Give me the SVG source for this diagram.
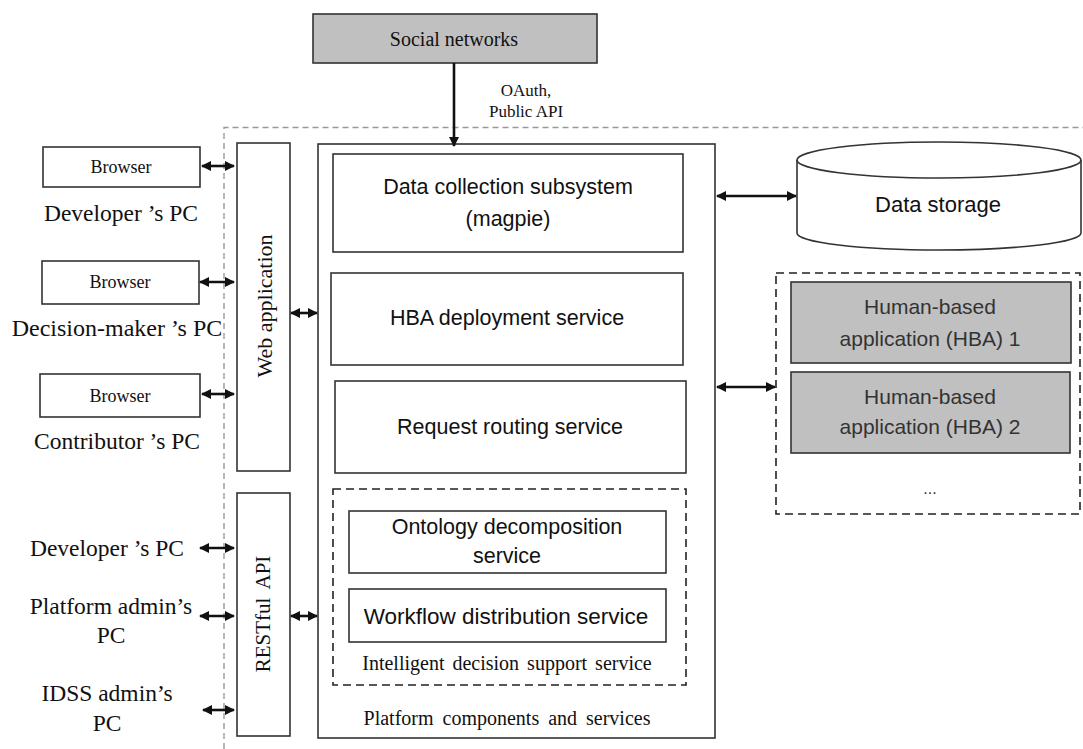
<svg xmlns="http://www.w3.org/2000/svg" width="1083" height="749" viewBox="0 0 1083 749">
  <style>
    .box { fill: #ffffff; stroke: #333333; stroke-width: 1.6; }
    .gray { fill: #c0c0c0; stroke: #333333; stroke-width: 1.6; }
    .dash { fill: none; stroke: #222222; stroke-width: 1.6; stroke-dasharray: 8 5; }
    .outer { fill: none; stroke: #999999; stroke-width: 1.4; stroke-dasharray: 6 4; }
    .serif { font-family: "Liberation Serif", "Times New Roman", serif; fill: #111111; text-anchor: middle; dominant-baseline: central; }
    .sans { font-family: "Liberation Sans", Arial, sans-serif; fill: #111111; text-anchor: middle; dominant-baseline: central; }
    .hba { fill: #333333; }
    .link { stroke: #111111; stroke-width: 2.6; fill: none; }
  </style>
  <defs>
    <marker id="head" viewBox="0 0 10 10" refX="9" refY="5" markerWidth="10" markerHeight="10" markerUnits="userSpaceOnUse" orient="auto-start-reverse">
      <path d="M0,0 L10,5 L0,10 Z" fill="#111111"/>
    </marker>
  </defs>

  <rect width="1083" height="749" fill="#ffffff"/>

  <!-- platform boundary (dashed, open to the right and bottom) -->
  <path class="outer" d="M224,749 L224,127.5 L1083,127.5"/>

  <g id="social-networks">
    <rect class="gray" x="313" y="14" width="284" height="49"/>
    <text class="serif" x="454" y="39" font-size="20">Social networks</text>
  </g>

  <g id="oauth-label">
    <text class="serif" x="526" y="90" font-size="17">OAuth,</text>
    <text class="serif" x="526" y="111" font-size="17">Public API</text>
  </g>

  <!-- client machines -->
  <g id="browser-developer">
    <rect class="box" x="43" y="147" width="157" height="40"/>
    <text class="serif" x="121" y="167" font-size="18">Browser</text>
    <text class="serif" x="121" y="213" font-size="23.5">Developer ’s PC</text>
  </g>
  <g id="browser-decision-maker">
    <rect class="box" x="42" y="261" width="157" height="43"/>
    <text class="serif" x="120" y="282" font-size="18">Browser</text>
    <text class="serif" x="117" y="328" font-size="24">Decision-maker ’s PC</text>
  </g>
  <g id="browser-contributor">
    <rect class="box" x="40" y="374" width="160" height="43"/>
    <text class="serif" x="120" y="396" font-size="18">Browser</text>
    <text class="serif" x="117" y="441" font-size="23.5">Contributor ’s PC</text>
  </g>
  <g id="api-developer">
    <text class="serif" x="107" y="548" font-size="23.5">Developer ’s PC</text>
  </g>
  <g id="api-platform-admin">
    <text class="serif" x="111" y="606" font-size="23.5">Platform admin’s</text>
    <text class="serif" x="111" y="635" font-size="23.5">PC</text>
  </g>
  <g id="api-idss-admin">
    <text class="serif" x="107" y="693" font-size="23.5">IDSS admin’s</text>
    <text class="serif" x="107" y="723" font-size="23.5">PC</text>
  </g>

  <!-- entry points -->
  <g id="web-application">
    <rect class="box" x="237" y="143" width="53" height="328"/>
    <text class="serif" font-size="22" transform="translate(264,306) rotate(-90)">Web application</text>
  </g>
  <g id="restful-api">
    <rect class="box" x="237" y="493" width="53" height="243"/>
    <text class="serif" font-size="21" transform="translate(263,614) rotate(-90)" word-spacing="4">RESTful API</text>
  </g>

  <!-- platform core -->
  <g id="platform">
    <rect class="box" x="318" y="144" width="397" height="594"/>
    <text class="serif" x="507" y="718" font-size="20" word-spacing="4">Platform components and services</text>
  </g>
  <g id="data-collection">
    <rect class="box" x="333" y="154" width="350" height="98"/>
    <text class="sans" x="508" y="187" font-size="21.5">Data collection subsystem</text>
    <text class="sans" x="508" y="219" font-size="21.5">(magpie)</text>
  </g>
  <g id="hba-deployment">
    <rect class="box" x="331" y="273" width="352" height="92"/>
    <text class="sans" x="507" y="318" font-size="21.5">HBA deployment service</text>
  </g>
  <g id="request-routing">
    <rect class="box" x="335" y="381" width="351" height="92"/>
    <text class="sans" x="510" y="427" font-size="21.5">Request routing service</text>
  </g>
  <g id="idss">
    <rect class="dash" x="333" y="489" width="353" height="196"/>
    <text class="serif" x="507" y="663" font-size="20" word-spacing="3">Intelligent decision support service</text>
  </g>
  <g id="ontology-decomposition">
    <rect class="box" x="349" y="511" width="317" height="62"/>
    <text class="sans" x="507" y="527" font-size="21.5">Ontology decomposition</text>
    <text class="sans" x="507" y="556" font-size="21.5">service</text>
  </g>
  <g id="workflow-distribution">
    <rect class="box" x="349" y="589" width="317" height="53"/>
    <text class="sans" x="506" y="616" font-size="22.5">Workflow distribution service</text>
  </g>

  <!-- storage and applications -->
  <g id="data-storage">
    <path class="box" d="M797,160 L797,233 A142,17 0 0 0 1081,233 L1081,160"/>
    <ellipse class="box" cx="939" cy="160" rx="142" ry="18"/>
    <text class="sans" x="938" y="204" font-size="22">Data storage</text>
  </g>
  <g id="hba-group">
    <rect class="dash" x="776" y="273" width="304" height="241"/>
    <text class="sans hba" x="930" y="488" font-size="16">...</text>
  </g>
  <g id="hba-1">
    <rect class="gray" x="791" y="282" width="280" height="81"/>
    <text class="sans hba" x="930" y="306" font-size="21">Human-based</text>
    <text class="sans hba" x="930" y="338" font-size="21">application (HBA) 1</text>
  </g>
  <g id="hba-2">
    <rect class="gray" x="791" y="372" width="279" height="81"/>
    <text class="sans hba" x="930" y="396" font-size="21">Human-based</text>
    <text class="sans hba" x="930" y="426" font-size="21">application (HBA) 2</text>
  </g>

  <g id="connectors">
    <line class="link" x1="454" y1="63" x2="454" y2="146" stroke-width="3" marker-end="url(#head)"/>
    <line class="link" x1="202" y1="166" x2="234" y2="166" marker-start="url(#head)" marker-end="url(#head)"/>
    <line class="link" x1="200" y1="282" x2="234" y2="282" marker-start="url(#head)" marker-end="url(#head)"/>
    <line class="link" x1="202" y1="394" x2="234" y2="394" marker-start="url(#head)" marker-end="url(#head)"/>
    <line class="link" x1="200" y1="548" x2="234" y2="548" marker-start="url(#head)" marker-end="url(#head)"/>
    <line class="link" x1="200" y1="616" x2="234" y2="616" marker-start="url(#head)" marker-end="url(#head)"/>
    <line class="link" x1="203" y1="710" x2="234" y2="710" marker-start="url(#head)" marker-end="url(#head)"/>
    <line class="link" x1="291" y1="313" x2="317" y2="313" marker-start="url(#head)" marker-end="url(#head)"/>
    <line class="link" x1="291" y1="616" x2="317" y2="616" marker-start="url(#head)" marker-end="url(#head)"/>
    <line class="link" x1="717" y1="196" x2="796" y2="196" marker-start="url(#head)" marker-end="url(#head)"/>
    <line class="link" x1="717" y1="387" x2="775" y2="387" marker-start="url(#head)" marker-end="url(#head)"/>
  </g>
</svg>
